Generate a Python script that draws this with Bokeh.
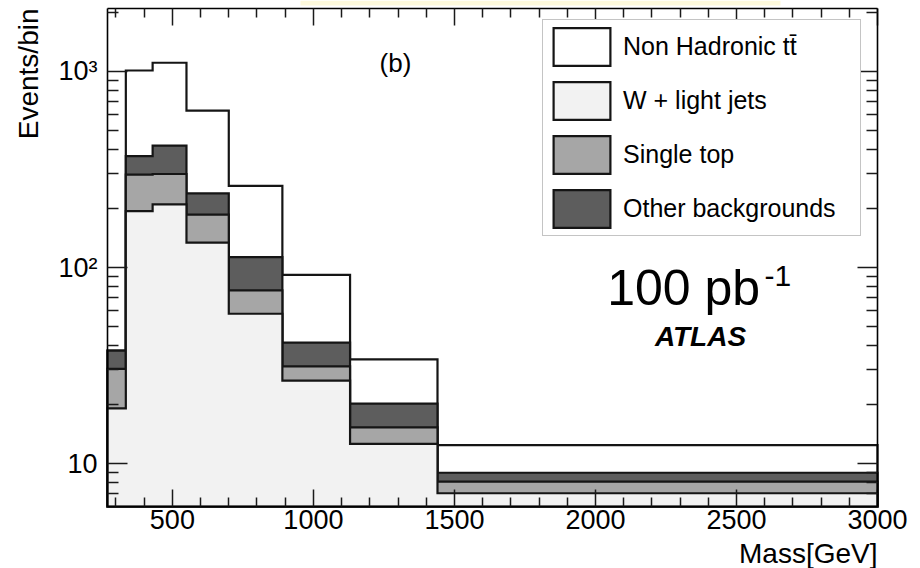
import numpy as np
from bokeh.plotting import figure
from bokeh.models import (FixedTicker, LinearAxis, LogAxis, Legend, LegendItem,
                          Label, BoxAnnotation)
from bokeh.embed import file_html
from bokeh.resources import INLINE

# Reconstructed top-quark pair invariant mass spectrum, stacked backgrounds
bin_edges = [270, 335, 430, 550, 700, 890, 1130, 1440, 3000]
w_light_jets = [19.1, 194, 210, 134, 58.1, 26.5, 12.6, 7.05]
single_top = [11.3, 104, 90, 52, 18.3, 4.8, 2.7, 1.04]
other_backgrounds = [7.3, 72, 119, 53, 36.6, 10.1, 4.9, 0.88]
non_hadronic_ttbar = [0.0, 642, 689, 393, 148, 50.4, 13.8, 3.43]

series_labels = ["Non Hadronic tt\u0304", "W + light jets", "Single top", "Other backgrounds"]
x_major_ticks = [500, 1000, 1500, 2000, 2500, 3000]
y_major_ticks = [10, 100, 1000]
y_tick_labels = ["10", "10\u00b2", "10\u00b3"]

FONT = "Liberation Sans"
FILL = {"ttbar": "#ffffff", "wjets": "#f2f2f2", "single": "#a6a6a6", "other": "#5d5d5d"}
EDGE = "#151515"

# axis box in data units and its placement on the 920x568 canvas
X_BOX = (270.0, 3000.0)
Y_BOX = (6.035, 2096.0)
W, H = 920, 568
BOX_L, BOX_R, BOX_T, BOX_B = 107, 877, 8, 506

kx = (BOX_R - BOX_L) / (X_BOX[1] - X_BOX[0])
ky = (BOX_B - BOX_T) / (np.log10(Y_BOX[1]) - np.log10(Y_BOX[0]))
x_lo = X_BOX[0] - BOX_L / kx
x_hi = X_BOX[1] + (W - BOX_R) / kx
y_hi = 10 ** (np.log10(Y_BOX[1]) + BOX_T / ky)
y_lo = 10 ** (np.log10(Y_BOX[0]) - (H - BOX_B) / ky)


def at_x(px):
    return x_lo + px / kx


def at_y(py):
    return 10 ** (np.log10(y_hi) - py / ky)


p = figure(width=W, height=H, x_range=(x_lo, x_hi), y_range=(y_lo, y_hi),
           y_axis_type="log", x_axis_location=None, y_axis_location=None,
           output_backend="svg", toolbar_location=None,
           min_border=0, min_border_left=0, min_border_right=0,
           min_border_top=0, min_border_bottom=0,
           background_fill_color="white", border_fill_color="white")
p.xgrid.visible = False
p.ygrid.visible = False
p.outline_line_color = None

# thin highlight strip along the top edge of the page
p.add_layout(BoxAnnotation(left=at_x(300), right=at_x(780), top=at_y(0), bottom=at_y(5),
                           fill_color="#fdf9dc", fill_alpha=1.0, line_color=None,
                           level="underlay"))

edges = np.array(bin_edges, dtype=float)
FLOOR = Y_BOX[0]

# cumulative stack, bottom to top
lvl_w = np.array(w_light_jets)
lvl_s = lvl_w + np.array(single_top)
lvl_o = lvl_s + np.array(other_backgrounds)
lvl_t = lvl_o + np.array(non_hadronic_ttbar)


def stair(values):
    xs = [edges[0], edges[0]]
    ys = [FLOOR, values[0]]
    for i, v in enumerate(values):
        xs += [edges[i], edges[i + 1]]
        ys += [v, v]
    xs.append(edges[-1])
    ys.append(FLOOR)
    return xs, ys


patches = {}
for level, key in [(lvl_t, "ttbar"), (lvl_o, "other"), (lvl_s, "single"), (lvl_w, "wjets")]:
    sx, sy = stair(level)
    patches[key] = p.patch(sx, sy, fill_color=FILL[key], line_color=EDGE,
                           line_width=2.2, line_join="miter")

legend_items = [LegendItem(label=name, renderers=[patches[key]])
                for name, key in zip(series_labels, ["ttbar", "wjets", "single", "other"])]
legend = Legend(items=legend_items, location=(542, H - 236), padding=3, spacing=7,
                glyph_width=71, glyph_height=47, label_height=47,
                label_standoff=6, label_width=234,
                label_text_font=FONT, label_text_font_size="25px",
                label_text_color="black",
                border_line_color="#8a8a8a", border_line_width=1.5,
                background_fill_color="white", background_fill_alpha=1.0,
                margin=0)
p.add_layout(legend, "center")

x_minor = [v for v in range(300, 3000, 100) if v % 500 != 0]
y_minor = [m * 10 ** d for d in range(0, 4) for m in range(2, 10)
           if Y_BOX[0] < m * 10 ** d < Y_BOX[1]]

bottom_axis = LinearAxis(ticker=FixedTicker(ticks=x_major_ticks, minor_ticks=x_minor),
                         fixed_location=Y_BOX[0], bounds=X_BOX)
top_axis = LinearAxis(ticker=FixedTicker(ticks=x_major_ticks, minor_ticks=x_minor),
                      fixed_location=Y_BOX[1], bounds=X_BOX)
left_axis = LogAxis(ticker=FixedTicker(ticks=y_major_ticks, minor_ticks=y_minor),
                    fixed_location=X_BOX[0], bounds=Y_BOX)
right_axis = LogAxis(ticker=FixedTicker(ticks=y_major_ticks, minor_ticks=y_minor),
                     fixed_location=X_BOX[1], bounds=Y_BOX)
p.add_layout(bottom_axis, "below")
p.add_layout(top_axis, "above")
p.add_layout(left_axis, "left")
p.add_layout(right_axis, "right")
left_axis.major_label_overrides = dict(zip(y_major_ticks, y_tick_labels))

for ax in [bottom_axis, top_axis]:
    ax.major_tick_in = 17
    ax.minor_tick_in = 9
for ax in [left_axis, right_axis]:
    ax.major_tick_in = 20
    ax.minor_tick_in = 11
for ax in [bottom_axis, top_axis, left_axis, right_axis]:
    ax.major_tick_out = 0
    ax.minor_tick_out = 0
    ax.axis_line_color = "black"
    ax.axis_line_width = 1.6
    ax.major_tick_line_color = "#1a1a1a"
    ax.minor_tick_line_color = "#1a1a1a"
    ax.major_tick_line_width = 1.5
    ax.minor_tick_line_width = 1.5
    ax.major_label_text_font = FONT
    ax.major_label_text_font_size = "27px"
    ax.major_label_text_color = "black"
# mirrored axes carry ticks only
for ax in [top_axis, right_axis]:
    ax.major_label_text_alpha = 0
    ax.major_label_text_font_size = "2px"
bottom_axis.major_label_standoff = 3
left_axis.major_label_standoff = 10


# axis titles and annotations
def note(px, py, text, size, align="left", style="normal", angle=0.0):
    p.add_layout(Label(x=at_x(px), y=at_y(py), text=text, angle=angle,
                       text_align=align, text_baseline="middle",
                       text_font=FONT, text_font_size=size,
                       text_font_style=style, text_color="black"))


note(28, BOX_T, "Events/bin", "28px", align="right", angle=np.pi / 2)
note(BOX_R, 553, "Mass[GeV]", "28px", align="right")
note(395, 62.5, "(b)", "26px", align="center")
note(606.7, 287, "100 pb", "50px")
note(764, 275, "-1", "30px")
note(700, 335.5, "ATLAS", "28px", align="center", style="bold italic")

open("out.html", "w").write(file_html(p, INLINE))
